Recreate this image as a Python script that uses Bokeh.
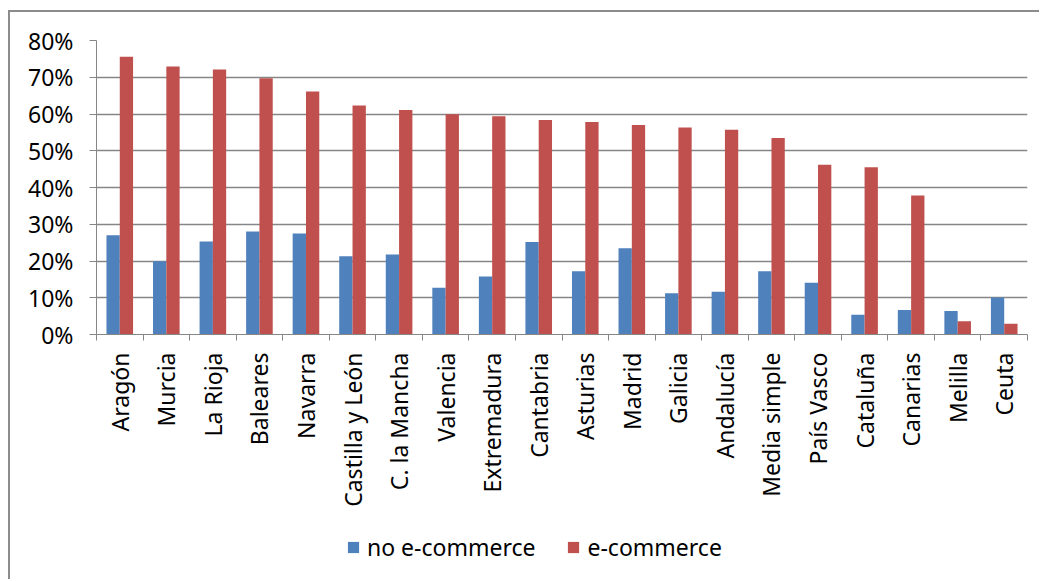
import math
from bokeh.plotting import figure
from bokeh.layouts import column
from bokeh.models import FixedTicker, NumeralTickFormatter, Range1d, Legend, LegendItem, ColumnDataSource
from bokeh.embed import file_html
from bokeh.resources import INLINE

regions = ["Aragón", "Murcia", "La Rioja", "Baleares", "Navarra", "Castilla y León",
           "C. la Mancha", "Valencia", "Extremadura", "Cantabria", "Asturias", "Madrid",
           "Galicia", "Andalucía", "Media simple", "País Vasco", "Cataluña", "Canarias",
           "Melilla", "Ceuta"]
no_ecommerce = [0.270, 0.199, 0.253, 0.280, 0.275, 0.213, 0.218, 0.127, 0.158, 0.252,
                0.172, 0.235, 0.112, 0.116, 0.172, 0.141, 0.054, 0.067, 0.064, 0.101]
ecommerce = [0.756, 0.729, 0.721, 0.697, 0.661, 0.623, 0.611, 0.599, 0.594, 0.584,
             0.578, 0.570, 0.563, 0.557, 0.535, 0.462, 0.455, 0.378, 0.036, 0.029]
y_ticks = [0.0, 0.1, 0.2, 0.3, 0.4, 0.5, 0.6, 0.7, 0.8]
series_names = ["no e-commerce", "e-commerce"]
colors = ["#4F81BD", "#C0504D"]

FONT = "Noto Sans"
FS = "23px"

idx = list(range(len(regions)))
bw = 1.0 / 3.5
src = ColumnDataSource(dict(
    x_blue=[i - bw / 2 for i in idx],
    x_red=[i + bw / 2 for i in idx],
    blue=no_ecommerce,
    red=ecommerce,
))

p = figure(width=1031, height=569, output_backend="svg", toolbar_location=None,
           x_range=Range1d(-0.5, len(regions) - 0.5), y_range=Range1d(0, 0.8),
           min_border_left=86, min_border_top=28, min_border_right=14, min_border_bottom=247)
p.styles = {"margin-left": "8px", "margin-top": "10px",
            "border-left": "2px solid #8c8c8c", "border-top": "2px solid #8c8c8c"}

p.vbar(x="x_blue", top="blue", width=bw, source=src, fill_color=colors[0], line_color=None)
p.vbar(x="x_red", top="red", width=bw, source=src, fill_color=colors[1], line_color=None)

p.outline_line_color = None
p.background_fill_color = "white"
p.border_fill_color = "white"

# x axis
xa = p.xaxis[0]
xa.ticker = FixedTicker(ticks=idx, minor_ticks=[i - 0.5 for i in idx] + [len(regions) - 0.5])
xa.major_label_overrides = {i: regions[i] for i in idx}
xa.major_label_orientation = math.pi / 2
xa.major_tick_out = 0
xa.major_tick_in = 0
xa.minor_tick_out = 6
xa.minor_tick_in = 0
xa.minor_tick_line_color = "#868686"
xa.axis_line_color = "#868686"
xa.major_label_text_font = FONT
xa.major_label_text_font_size = FS
xa.major_label_text_color = "black"
xa.major_label_standoff = 12
p.xgrid.grid_line_color = None

# y axis
ya = p.yaxis[0]
ya.ticker = FixedTicker(ticks=y_ticks)
ya.formatter = NumeralTickFormatter(format="0%")
ya.major_tick_out = 7
ya.major_tick_in = 0
ya.minor_tick_out = 0
ya.minor_tick_in = 0
ya.major_tick_line_color = "#868686"
ya.axis_line_color = "#868686"
ya.major_label_text_font = FONT
ya.major_label_text_font_size = FS
ya.major_label_text_color = "black"
ya.major_label_standoff = 16
p.ygrid.grid_line_color = "#868686"
p.ygrid.grid_line_width = 1.5

# legend strip, pulled up over the empty bottom of the chart
lf = figure(width=1031, height=30, output_backend="svg", toolbar_location=None,
            x_range=Range1d(0, 1), y_range=Range1d(0, 1),
            x_axis_location=None, y_axis_location=None,
            min_border=0, min_border_left=0, min_border_right=0, min_border_top=0, min_border_bottom=0)
lf.grid.visible = False
lf.outline_line_color = None
lf.background_fill_alpha = 0
lf.border_fill_alpha = 0
lf.styles = {"margin-left": "10px", "margin-top": "-45px"}
# zero-height swatch glyphs (only their styles are shown, in the legend)
lb = lf.vbar(x=[0.5], top=[0], bottom=[0], width=0.01, fill_color=colors[0], line_color=None)
lr = lf.vbar(x=[0.5], top=[0], bottom=[0], width=0.01, fill_color=colors[1], line_color=None)
legend = Legend(items=[LegendItem(label=series_names[0], renderers=[lb]),
                       LegendItem(label=series_names[1], renderers=[lr])],
                orientation="horizontal", location=(250, 1),
                label_text_font=FONT, label_text_font_size=FS, label_text_color="black",
                glyph_width=14, glyph_height=14, label_standoff=7, spacing=31,
                border_line_color=None, background_fill_alpha=0, padding=0, margin=0)
lf.add_layout(legend, "center")

layout = column(p, lf, spacing=0)
open("out.html", "w").write(file_html(layout, INLINE))
